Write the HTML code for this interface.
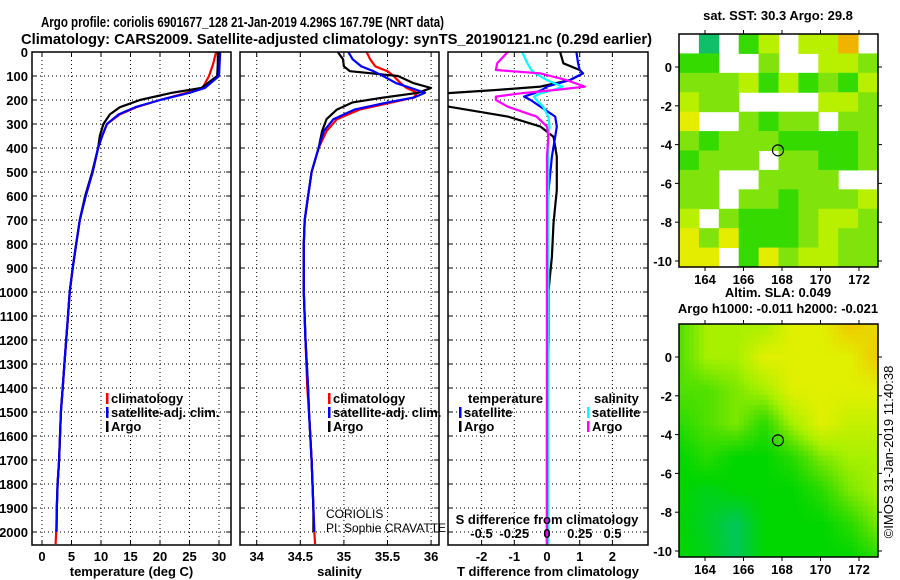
<!DOCTYPE html>
<html><head><meta charset="utf-8">
<style>
html,body{margin:0;padding:0;background:#fff;}
svg{display:block;font-family:"Liberation Sans",sans-serif;}
.b{font-weight:bold;font-size:13px;}
.t{font-weight:bold;font-size:15px;}
</style></head>
<body>
<svg id="fig" width="900" height="580" viewBox="0 0 900 580" xmlns="http://www.w3.org/2000/svg">
<text x="41" y="27" class="t" textLength="403" lengthAdjust="spacingAndGlyphs">Argo profile: coriolis 6901677_128 21-Jan-2019 4.296S 167.79E (NRT data)</text>
<text x="21" y="44" class="t" textLength="631" lengthAdjust="spacingAndGlyphs">Climatology: CARS2009. Satellite-adjusted climatology: synTS_20190121.nc (0.29d earlier)</text>
<g id="panels"></g>
<g id="maps"></g>
<text transform="translate(893,452) rotate(-90)" text-anchor="middle" font-size="13">©IMOS 31-Jan-2019 11:40:38</text>
</svg>
<script>
// ---- data ----
var depthTicks = [0,100,200,300,400,500,600,700,800,900,1000,1100,1200,1300,1400,1500,1600,1700,1800,1900,2000];
var tTicks = [0,5,10,15,20,25,30];
var sTicks = [34,34.5,35,35.5,36];
var dtTicks = [-2,-1,0,1,2];
var dsTickLabels = ["-0.5","-0.25","0","0.25","0.5"];
var dsTicks = [-0.5,-0.25,0,0.25,0.5];

var tDepth = [0,50,100,150,170,200,230,260,300,350,400,500,600,700,800,900,1000,1100,1200,1300,1400,1500,1600,1700,1800,1900,2000,2050];
var argoT = [29.8,29.8,29.7,27,22,16.6,13.2,11.5,10.4,9.8,9.5,8.5,7.3,6.4,5.8,5.2,4.7,4.4,4.1,3.8,3.5,3.2,3.05,2.9,2.65,2.5,2.45,2.45];
var climT = [29.5,29,28.3,27.2,24.5,20,16,13.2,11,10.2,9.5,8.6,7.4,6.4,5.8,5.2,4.7,4.4,4.1,3.8,3.5,3.2,3.05,2.9,2.65,2.5,2.4,2.3];
var satT  = [30.2,30.1,30,27.6,25,20,15.8,13,11,10.2,9.5,8.6,7.4,6.4,5.8,5.2,4.7,4.4,4.1,3.8,3.5,3.2,3.05,2.9,2.65,2.5,2.45,2.45];

var sDepth = [0,30,60,80,100,130,150,170,190,210,240,280,330,400,500,600,700,800,1000,1200,1400,1500,1700,1900,2000,2050];
var argoS = [34.93,34.99,35.0,35.07,35.62,35.8,36.0,35.85,35.45,35.1,34.92,34.8,34.75,34.71,34.63,34.59,34.55,34.54,34.54,34.56,34.59,34.6,34.63,34.65,34.65,34.65];
var climS = [35.26,35.3,35.36,35.5,35.57,35.65,35.72,35.84,35.8,35.55,35.18,34.92,34.8,34.71,34.63,34.59,34.55,34.54,34.54,34.56,34.58,34.6,34.63,34.65,34.66,34.67];
var satS  = [35.05,35.1,35.2,35.34,35.45,35.6,35.77,35.93,35.8,35.5,35.12,34.88,34.77,34.71,34.63,34.59,34.55,34.54,34.54,34.56,34.59,34.6,34.63,34.65,34.66,34.66];

var dDepth = [0,47,75,89,117,144,158,172,186,200,228,269,311,353,436,575,714,853,992,1200,1500,1800,2050];
var argoDT = [0.4,0.5,1.0,1.1,0.7,-0.2,-1.5,-3.1,-3.5,-3.4,-3.0,-1.2,-0.2,0.2,0.3,0.3,0.2,0.15,0.05,0.05,0,0,0];
var satDT  = [0.9,0.95,1.0,1.1,0.7,0.0,-0.15,-0.4,-0.7,-0.5,-0.2,0.25,0.3,0.25,0.15,0.05,0.02,0,0,0,0,0,0];
var satDS  = [-0.19,-0.15,-0.12,-0.09,0,0.12,0.05,-0.05,-0.1,-0.08,-0.03,0.01,0.02,0.01,0.01,0.01,0.01,0.01,0.01,0.01,0.01,0.01,0.01];
var argoDS = [-0.3,-0.38,-0.39,-0.05,0.15,0.29,0.07,-0.2,-0.39,-0.39,-0.3,-0.08,0,0.01,0,0,0,0,0,0,0,0,0];

var lonTicks = [164,166,168,170,172];
var latTicks = [0,-2,-4,-6,-8,-10];
var argoLon = 167.79, argoLat = -4.296;
var sstGrid = [
".T.GY.YYo.",
"GG..g..YYg",
"gggYGYGgGY",
"Ygg....YYg",
"y..gGgg.gg",
"gGgggGGGGg",
"Gggg.ggGGg",
"gg..gggg..",
"gg.ggGgggY",
"Y.gGGGgYYg",
"ygyGGGgYgg",
"yy.GygYYgg"];
var slaGrid = [
[2,3,3,3,4,4,5,4.5],
[2,3,3,4,4,4,4,5],
[2,2,2.5,3,4,4,4,4],
[1.5,2,2.5,1.5,3,4,3.5,3.5],
[1,1.5,1,1,1.5,2.5,3,3],
[1,0.8,1,1,1,1.5,2.5,3],
[1,0.7,0.3,1,1,1,1.5,2.5],
[1,0.8,0.3,1,1,1,1,1.5]];

// ---- helpers ----
var NS="http://www.w3.org/2000/svg";
function mk(tag,attrs,parent,txt){var e=document.createElementNS(NS,tag);for(var k in attrs)e.setAttribute(k,attrs[k]);if(txt!==undefined)e.textContent=txt;parent.appendChild(e);return e;}
var top0=52, bot=545;
function yD(d){return top0+d*0.24;}
var panelsG=document.getElementById('panels');

function panel(id,x0,x1,xs,xticks,xlabels,xtitle,clipId){
  var g=mk('g',{},panelsG);
  
  
  var cp=mk('clipPath',{id:clipId},g);
  mk('rect',{x:x0,y:top0,width:x1-x0,height:bot-top0},cp);
  depthTicks.forEach(function(d){
    var y=yD(d);
    var l=mk('line',{x1:x0,x2:x1,y1:y,y2:y,stroke:'#000','stroke-width':1,'stroke-dasharray':'1,3'},g);
    
    
    mk('line',{x1:x0,x2:x0+5,y1:y,y2:y,stroke:'#000'},g);
    mk('line',{x1:x1-5,x2:x1,y1:y,y2:y,stroke:'#000'},g);
  });
  xticks.forEach(function(v,i){
    var x=xs(v);
    var l=mk('line',{x1:x,x2:x,y1:top0,y2:bot,stroke:'#000','stroke-width':1,'stroke-dasharray':'1,3'},g);
    
    
    mk('line',{x1:x,x2:x,y1:top0,y2:top0+5,stroke:'#000'},g);
    mk('line',{x1:x,x2:x,y1:bot-5,y2:bot,stroke:'#000'},g);
    var t=mk('text',{x:x,y:561,'text-anchor':'middle','class':'b'},g,xlabels[i]);
    
    
  });
  var tt=mk('text',{x:(x0+x1)/2,y:576,'text-anchor':'middle','class':'b'},g,xtitle);
  
  
  var lines=mk('g',{'clip-path':'url(#'+clipId+')'},g);
  var fr=mk('rect',{x:x0,y:top0,width:x1-x0,height:bot-top0,fill:'none',stroke:'#000','stroke-width':1.5},g);
  
  
  return {g:g,lines:lines};
}
function series(parent,name,depths,vals,xs,color){
  var pts=depths.map(function(d,i){return xs(vals[i]).toFixed(1)+','+yD(d).toFixed(1);}).join(' ');
  var p=mk('polyline',{points:pts,fill:'none',stroke:color,'stroke-width':2.2,'stroke-linejoin':'round'},parent);
  
  
}
function legendEntry(parent,x,y,color,label,name){
  var g=mk('g',{},parent);
  
  
  if(color) mk('rect',{x:x,y:y-10,width:2.5,height:11,fill:color},g);
  mk('text',{x:x+5,y:y,'class':'b'},g,label);
}

depthTicks.forEach(function(d){
  var t=mk('text',{x:28,y:yD(d)+5,'text-anchor':'end','class':'b'},panelsG,String(d));
  
  
});

var xT=function(v){return 42+v*5.9;};
var p1=panel('temperature-panel',32,231,xT,tTicks,tTicks.map(String),'temperature (deg C)','c1');
series(p1.lines,'temperature-climatology-line',tDepth,climT,xT,'#f00');
series(p1.lines,'temperature-argo-line',tDepth.slice(0,27),argoT.slice(0,27),xT,'#000');
series(p1.lines,'temperature-satellite-line',tDepth.slice(0,27),satT.slice(0,27),xT,'#00f');
legendEntry(p1.g,106,403,'#f00','climatology','legend-climatology');
legendEntry(p1.g,106,417,'#00f','satellite-adj. clim.','legend-satellite-adj');
legendEntry(p1.g,106,431,'#000','Argo','legend-argo');

var xS=function(v){return 256.7+(v-34)*87.2;};
var p2=panel('salinity-panel',240,439,xS,sTicks,["34","34.5","35","35.5","36"],'salinity','c2');
series(p2.lines,'salinity-climatology-line',sDepth,climS,xS,'#f00');
series(p2.lines,'salinity-argo-line',sDepth.slice(0,25),argoS.slice(0,25),xS,'#000');
series(p2.lines,'salinity-satellite-line',sDepth.slice(0,25),satS.slice(0,25),xS,'#00f');
legendEntry(p2.g,328,403,'#f00','climatology','legend-climatology');
legendEntry(p2.g,328,417,'#00f','satellite-adj. clim.','legend-satellite-adj');
legendEntry(p2.g,328,431,'#000','Argo','legend-argo');
var c1=mk('text',{x:326,y:518,'font-size':'12'},p2.g,'CORIOLIS');

var c2=mk('text',{x:326,y:532,'font-size':'12'},p2.g,'PI: Sophie CRAVATTE');


var xDT=function(v){return 547+v*32.7;};
var xDS=function(v){return 547+v*131;};
var p3=panel('difference-panel',448,648,xDT,dtTicks,dtTicks.map(String),'T difference from climatology','c3');
series(p3.lines,'argo-t-diff-line',dDepth,argoDT,xDT,'#000');
series(p3.lines,'satellite-t-diff-line',dDepth,satDT,xDT,'#00f');
series(p3.lines,'satellite-s-diff-line',dDepth,satDS,xDS,'#0ff');
series(p3.lines,'argo-s-diff-line',dDepth,argoDS,xDS,'#f0f');
var sl=mk('text',{x:547,y:524,'text-anchor':'middle','class':'b'},p3.g,'S difference from climatology');

dsTicks.forEach(function(v,i){
  var t=mk('text',{x:xDS(v),y:538,'text-anchor':'middle','class':'b'},p3.g,dsTickLabels[i]);
  
  
});
var lt=mk('text',{x:468,y:403,'class':'b'},p3.g,'temperature');

legendEntry(p3.g,459,417,'#00f','satellite','legend-t-satellite');
legendEntry(p3.g,459,431,'#000','Argo','legend-t-argo');
var ls=mk('text',{x:594,y:403,'class':'b'},p3.g,'salinity');

legendEntry(p3.g,587,417,'#0ff','satellite','legend-s-satellite');
legendEntry(p3.g,587,431,'#f0f','Argo','legend-s-argo');

// ---- maps ----
var mapsG=document.getElementById('maps');
var mx0=679,mx1=878,mw=199,mh=233;
var lonX=function(l){return 705+(l-164)*19.25;};
var sstCol={T:'#10c068',G:'#34da00',g:'#80e40c',Y:'#b8f000',y:'#e4ec00',o:'#f0b400'};
var slaStops=[[0,192,128],[0,214,0],[80,224,0],[168,240,0],[224,240,0],[240,200,0]];
function slaColor(v){var i=Math.min(4,Math.floor(v)),f=v-i;var a=slaStops[i],b=slaStops[i+1];
  return 'rgb('+a.map(function(c,k){return Math.round(c+(b[k]-c)*f);}).join(',')+')';}

function mapFrame(name,y0,title1,title2,fill){
  var g=mk('g',{},mapsG);
  
  
  var latY=function(l){return y0+33-l*19.4;};
  fill(g,y0);
  lonTicks.forEach(function(l){
    var x=lonX(l);
    mk('line',{x1:x,x2:x,y1:y0,y2:y0-4,stroke:'#000'},g);
    mk('line',{x1:x,x2:x,y1:y0+mh,y2:y0+mh+4,stroke:'#000'},g);
    var t=mk('text',{x:x,y:y0+mh+17,'text-anchor':'middle','class':'b'},g,String(l));
    
    
  });
  latTicks.forEach(function(l){
    var y=latY(l);
    mk('line',{x1:mx0-4,x2:mx0,y1:y,y2:y,stroke:'#000'},g);
    mk('line',{x1:mx1,x2:mx1+4,y1:y,y2:y,stroke:'#000'},g);
    var t=mk('text',{x:672,y:y+5,'text-anchor':'end','class':'b'},g,String(l));
    
    
  });
  var c=mk('circle',{cx:lonX(argoLon),cy:latY(argoLat),r:5.5,fill:'none',stroke:'#000','stroke-width':1.2},g);
  
  
  mk('rect',{x:mx0,y:y0,width:mw,height:mh,fill:'none',stroke:'#000','stroke-width':1.5},g);
  var t1=mk('text',{x:778,y:title2?y0-27:y0-14,'text-anchor':'middle','class':'b'},g,title1);
  
  if(title2){var t2=mk('text',{x:778,y:y0-11,'text-anchor':'middle','class':'b'},g,title2);
    }
}
mapFrame('sst-map',34,'sat. SST: 30.3 Argo: 29.8',null,function(g,y0){
  var cw=mw/10,ch=mh/12;
  sstGrid.forEach(function(row,r){row.split('').forEach(function(ch0,c){
    if(ch0==='.')return;
    var cell=mk('rect',{x:mx0+c*cw,y:y0+r*ch,width:cw+0.5,height:ch+0.5,fill:sstCol[ch0]},g);
    
    
  });});
});
mapFrame('sla-map',324,'Altim. SLA: 0.049','Argo h1000: -0.011 h2000: -0.021',function(g,y0){
  var nx=40,ny=46,R=slaGrid.length,C=slaGrid[0].length;
  for(var j=0;j<ny;j++)for(var i=0;i<nx;i++){
    var fx=(i+0.5)/nx*(C-1),fy=(j+0.5)/ny*(R-1);
    var c0=Math.floor(fx),r0=Math.floor(fy),c1=Math.min(C-1,c0+1),r1=Math.min(R-1,r0+1),ax=fx-c0,ay=fy-r0;
    var v=slaGrid[r0][c0]*(1-ax)*(1-ay)+slaGrid[r0][c1]*ax*(1-ay)+slaGrid[r1][c0]*(1-ax)*ay+slaGrid[r1][c1]*ax*ay;
    var cell=mk('rect',{x:mx0+i*mw/nx,y:y0+j*mh/ny,width:mw/nx+0.4,height:mh/ny+0.4,fill:slaColor(v)},g);
    
    
  }
});
</script>
</body></html>
